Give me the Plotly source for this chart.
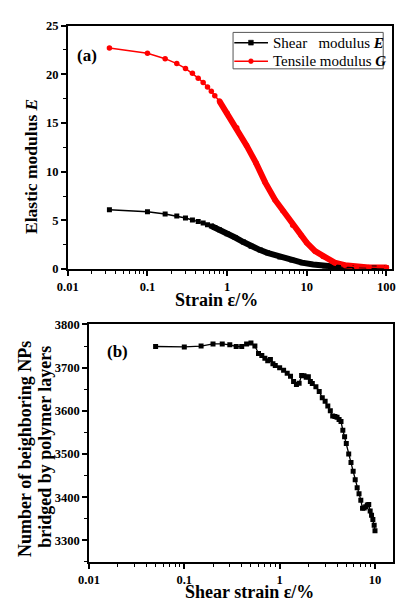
import plotly.graph_objects as go

# ---------------- data: panel (a) ----------------
shear_strain = [0.0333, 0.1, 0.1667, 0.2333, 0.3, 0.3667, 0.4333, 0.5, 0.5667, 0.6333, 0.7, 0.8,
                1.0, 1.26, 1.6, 2.0, 2.6, 3.2, 4.6, 6.5, 8.7, 12, 16.8, 25, 40, 70, 100]
shear_E = [6.1, 5.88, 5.65, 5.45, 5.25, 5.05, 4.88, 4.72, 4.56, 4.42, 4.27, 4.03,
           3.62, 3.24, 2.78, 2.34, 1.95, 1.67, 1.25, 0.93, 0.66, 0.47, 0.33, 0.22, 0.15, 0.12, 0.12]

tensile_strain = [0.0333, 0.1, 0.1667, 0.2333, 0.3, 0.3667, 0.4333, 0.5, 0.5667, 0.6333, 0.7, 0.8,
                  1.0, 1.32, 1.75, 2.3, 3.0, 4.0, 5.0, 6.65, 8.5, 10, 12.7, 16, 22.4, 30, 42, 60, 100]
tensile_G = [22.7, 22.15, 21.6, 21.1, 20.6, 20.1, 19.6, 19.15, 18.7, 18.25, 17.8, 17.25,
             16.0, 14.5, 12.7, 10.9, 8.9, 7.1, 6.0, 4.5, 3.45, 2.7, 1.84, 1.3, 0.66, 0.4, 0.23, 0.17, 0.16]

# ---------------- data: panel (b) ----------------
b_strain = [0.05, 0.1, 0.15, 0.2, 0.25, 0.3, 0.35, 0.4, 0.45, 0.5, 0.55, 0.6, 0.65, 0.7, 0.75, 0.8,
            0.85, 0.9, 1.0, 1.1, 1.2, 1.3, 1.4, 1.5, 1.6, 1.7, 1.8, 1.9, 2.0, 2.1, 2.2, 2.4, 2.6,
            2.8, 3.0, 3.2, 3.4, 3.6, 3.8, 4.0, 4.2, 4.4, 4.6, 4.8, 5.0, 5.3, 5.6, 5.9, 6.2, 6.5,
            6.8, 7.1, 7.4, 7.7, 8.0, 8.3, 8.6, 8.9, 9.2, 9.5, 9.8, 10.0]
b_count = [3749, 3748, 3750, 3755, 3755, 3753, 3749, 3749, 3755, 3757, 3750, 3733, 3728, 3722, 3716, 3719,
           3709, 3705, 3700, 3694, 3687, 3680, 3668, 3661, 3664, 3682, 3681, 3678, 3679, 3668, 3663, 3656, 3645,
           3630, 3622, 3611, 3600, 3588, 3587, 3585, 3580, 3575, 3555, 3540, 3524, 3500, 3480, 3460, 3440, 3422,
           3408, 3393, 3374, 3375, 3378, 3382, 3383, 3368, 3358, 3348, 3335, 3322]

# ---------------- tick labels / legend labels ----------------
a_xticks = [0.01, 0.1, 1, 10, 100]
a_xticktext = ["0.01", "0.1", "1", "10", "100"]
a_yticks = [0, 5, 10, 15, 20, 25]
a_yticktext = ["0", "5", "10", "15", "20", "25"]
b_xticks = [0.01, 0.1, 1, 10]
b_xticktext = ["0.01", "0.1", "1", "10"]
b_yticks = [3300, 3400, 3500, 3600, 3700, 3800]
b_yticktext = ["3300", "3400", "3500", "3600", "3700", "3800"]
legend_labels = ["Shear\u00a0\u00a0\u00a0modulus <b><i>E</i></b>", "Tensile modulus <b><i>G</i></b>"]

W, H = 400, 606
FONT = "Liberation Serif"

def px_x(p):
    return p / W

def px_y(p):
    return 1 - p / H

log_minor = [m * 10 ** e for e in range(-2, 3) for m in range(2, 10)]

fig = go.Figure()

# thick bands (dense overlapping markers in the original)
fig.add_trace(go.Scatter(x=[x for x in shear_strain if x >= 0.6], y=[y for x, y in zip(shear_strain, shear_E) if x >= 0.6],
                         mode="lines", line=dict(color="black", width=6), showlegend=False,
                         xaxis="x", yaxis="y", hoverinfo="skip"))
fig.add_trace(go.Scatter(x=[x for x in tensile_strain if x >= 0.75], y=[y for x, y in zip(tensile_strain, tensile_G) if x >= 0.75],
                         mode="lines", line=dict(color="red", width=6), showlegend=False,
                         xaxis="x", yaxis="y", hoverinfo="skip"))
fig.add_trace(go.Scatter(x=shear_strain, y=shear_E, mode="lines+markers", name=legend_labels[0],
                         line=dict(color="black", width=1.5),
                         marker=dict(symbol="square", size=5, color="black"),
                         showlegend=False, xaxis="x", yaxis="y"))
fig.add_trace(go.Scatter(x=tensile_strain, y=tensile_G, mode="lines+markers", name=legend_labels[1],
                         line=dict(color="red", width=1.5),
                         marker=dict(symbol="circle", size=5.5, color="red"),
                         showlegend=False, xaxis="x", yaxis="y"))
fig.add_trace(go.Scatter(x=b_strain, y=b_count, mode="lines+markers",
                         line=dict(color="black", width=1.3),
                         marker=dict(symbol="square", size=5, color="black"),
                         showlegend=False, xaxis="x2", yaxis="y2"))

axis_common = dict(showline=True, linecolor="black", linewidth=1.5, mirror=True,
                   ticks="outside", ticklen=5, tickwidth=1.5, tickcolor="black",
                   showgrid=False, zeroline=False,
                   tickfont=dict(family=FONT, size=12.5, color="black", weight="bold"))

fig.update_layout(
    width=W, height=H,
    margin=dict(l=0, r=0, t=0, b=0),
    paper_bgcolor="white", plot_bgcolor="white",
    showlegend=False,
    xaxis=dict(type="log", range=[-2, 2.065], domain=[px_x(59), px_x(395.5)], anchor="y",
               tickmode="array", tickvals=a_xticks, ticktext=a_xticktext,
               minor=dict(ticks="outside", ticklen=3, tickwidth=1, tickcolor="black",
                          tickmode="array", tickvals=log_minor),
               **axis_common),
    yaxis=dict(range=[0, 25], domain=[px_y(268.3), px_y(19)], anchor="x",
               tickmode="array", tickvals=a_yticks, ticktext=a_yticktext,
               minor=dict(ticks="outside", ticklen=3, tickwidth=1, tickcolor="black",
                          tickmode="array", tickvals=[2.5, 7.5, 12.5, 17.5, 22.5]),
               **axis_common),
    xaxis2=dict(type="log", range=[-2, 1.19], domain=[px_x(81), px_x(397)], anchor="y2",
                tickmode="array", tickvals=b_xticks, ticktext=b_xticktext,
                minor=dict(ticks="outside", ticklen=3, tickwidth=1, tickcolor="black",
                           tickmode="array", tickvals=log_minor),
                **axis_common),
    yaxis2=dict(range=[3250, 3800], domain=[px_y(568), px_y(325)], anchor="x2",
                tickmode="array", tickvals=b_yticks, ticktext=b_yticktext,
                minor=dict(ticks="outside", ticklen=3, tickwidth=1, tickcolor="black",
                           tickmode="array", tickvals=[3250, 3350, 3450, 3550, 3650, 3750]),
                **axis_common),
)

# ---------------- hand-built legend box (panel a) ----------------
fig.add_shape(type="rect", xref="paper", yref="paper",
              x0=px_x(230.7), x1=px_x(386.7), y0=px_y(63.3), y1=px_y(26),
              line=dict(color="#555", width=1), fillcolor="white", layer="above")
legend_rows = [(36.5, "black", "square"), (55.5, "red", "circle")]
for (ry, col, sym), lab in zip(legend_rows, legend_labels):
    fig.add_shape(type="line", xref="paper", yref="paper",
                  x0=px_x(232), x1=px_x(267), y0=px_y(ry), y1=px_y(ry),
                  line=dict(color=col, width=1.5), layer="above")
    fig.add_shape(type="rect" if sym == "square" else "circle", xref="paper", yref="paper",
                  x0=px_x(246.8), x1=px_x(251.8), y0=px_y(ry + 2.5), y1=px_y(ry - 2.5),
                  line=dict(color=col, width=0.5), fillcolor=col, layer="above")
    fig.add_annotation(text=lab, x=px_x(270.5), y=px_y(ry), xref="paper", yref="paper",
                       xanchor="left", yanchor="middle", showarrow=False,
                       font=dict(family=FONT, size=15, color="black"))

annots = [
    dict(text="<b>Elastic modulus <i>E</i></b>", x=px_x(21.5), y=px_y(163), textangle=-90, size=17.5),
    dict(text="<b>Strain ε/%</b>", x=px_x(214), y=px_y(300), textangle=0, size=18),
    dict(text="<b>(a)</b>", x=px_x(79), y=px_y(50), textangle=0, size=17),
    dict(text="<b>Number of beighboring NPs</b>", x=px_x(14), y=px_y(452), textangle=-90, size=18),
    dict(text="<b>bridged by polymer layers</b>", x=px_x(34.5), y=px_y(450), textangle=-90, size=18),
    dict(text="<b>Shear strain ε/%</b>", x=px_x(247.5), y=px_y(598.5), textangle=0, size=18),
    dict(text="<b>(b)</b>", x=px_x(110.5), y=px_y(353), textangle=0, size=17),
]
for a in annots:
    fig.add_annotation(text=a["text"], x=a["x"], y=a["y"], xref="paper", yref="paper",
                       xanchor="center", yanchor="middle", showarrow=False, textangle=a["textangle"],
                       font=dict(family=FONT, size=a["size"], color="black"))

fig.write_html("out.html", config={"displayModeBar": False},
               post_script="document.body.style.margin='0px';document.body.style.overflow='hidden';")
